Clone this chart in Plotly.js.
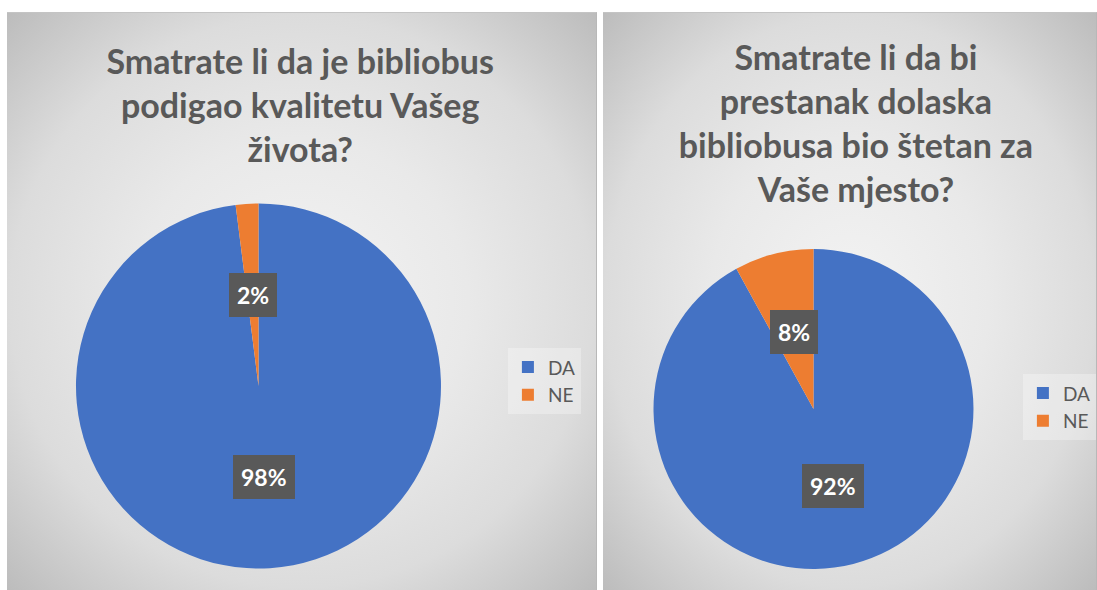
<!DOCTYPE html>
<html>
<head>
<meta charset="utf-8">
<script src="https://cdn.plot.ly/plotly-3.0.1.min.js"></script>
<style>
  html, body { margin:0; padding:0; background:#ffffff; width:1097px; height:590px; overflow:hidden; }
  .panel { position:absolute; top:12px; height:578px;
    background: radial-gradient(ellipse farthest-corner at 50% 50%, #f3f3f3 0%, #e9e9e9 40%, #dcdcdc 70%, #bcbcbc 100%);
    box-sizing:border-box; border-right:1px solid #b8b8b8; border-top:1px solid #c4c4c4; }
  #p1 { left:7px; width:590px; }
  #p2 { left:603px; width:494px; }
</style>
</head>
<body>
<div id="p1" class="panel"></div>
<div id="p2" class="panel"></div>
<script>
// ---- data ----
const labels = ['DA', 'NE'];
const values1 = [98, 2];
const values2 = [92, 8];
const pct1 = ['98%', '2%'];
const pct2 = ['92%', '8%'];
const title1 = 'Smatrate li da je bibliobus<br>podigao kvalitetu Vašeg<br>života?';
const title2 = 'Smatrate li da bi<br>prestanak dolaska<br>bibliobusa bio štetan za<br>Vaše mjesto?';
const colors = ['#4472c4', '#ed7d31'];

function labelAnnotations(values, texts, dom, W, H) {
  const cx = (dom.x[0] + dom.x[1]) / 2 * W;
  const cy = (dom.y[0] + dom.y[1]) / 2 * H;
  const r = Math.min((dom.x[1] - dom.x[0]) * W, (dom.y[1] - dom.y[0]) * H) / 2;
  const total = values.reduce((a, b) => a + b, 0);
  let cum = 0;
  return values.map((v, i) => {
    const mid = (cum + v / 2) / total * 2 * Math.PI;
    cum += v;
    const x = cx + 0.5 * r * Math.sin(mid);
    const y = cy + 0.5 * r * Math.cos(mid);
    return {
      text: texts[i], x: x / W, y: y / H, xref: 'paper', yref: 'paper',
      showarrow: false, xanchor: 'center', yanchor: 'middle',
      bgcolor: '#595959', borderpad: 8, borderwidth: 0,
      font: { family: 'Lato', size: 23, color: '#ffffff', weight: 'bold' }
    };
  });
}

function makeChart(id, W, H, values, texts, title, dom, titleX, titleY, legendX, legendY) {
  const trace = {
    type: 'pie', labels: labels, values: values, sort: false,
    direction: 'clockwise', rotation: 0, textinfo: 'none', hoverinfo: 'label+percent',
    marker: { colors: colors, line: { width: 0 } },
    domain: dom
  };
  const layout = {
    width: W, height: H,
    margin: { l: 0, r: 0, t: 0, b: 0 },
    paper_bgcolor: 'rgba(0,0,0,0)', plot_bgcolor: 'rgba(0,0,0,0)',
    title: {
      text: title, x: titleX, xref: 'paper', xanchor: 'center',
      y: titleY, yref: 'container', yanchor: 'top',
      font: { family: 'Lato', size: 34, color: '#595959', weight: 'bold' }
    },
    showlegend: true,
    legend: {
      x: legendX, y: legendY, xanchor: 'left', yanchor: 'top',
      bgcolor: 'rgba(255,255,255,0.3)', borderwidth: 0,
      font: { family: 'Lato', size: 19, color: '#595959' }
    },
    annotations: labelAnnotations(values, texts, dom, W, H)
  };
  Plotly.newPlot(id, [trace], layout, { displayModeBar: false, staticPlot: true });
}

makeChart('p1', 590, 578, values1, pct1, title1,
  { x: [0.1169, 0.7356], y: [0.0389, 0.6704] }, 0.497, 0.895, 0.849, 0.42);
makeChart('p2', 494, 578, values2, pct2, title2,
  { x: [0.1022, 0.75], y: [0.0381, 0.5917] }, 0.512, 0.902, 0.85, 0.375);
</script>
</body>
</html>
